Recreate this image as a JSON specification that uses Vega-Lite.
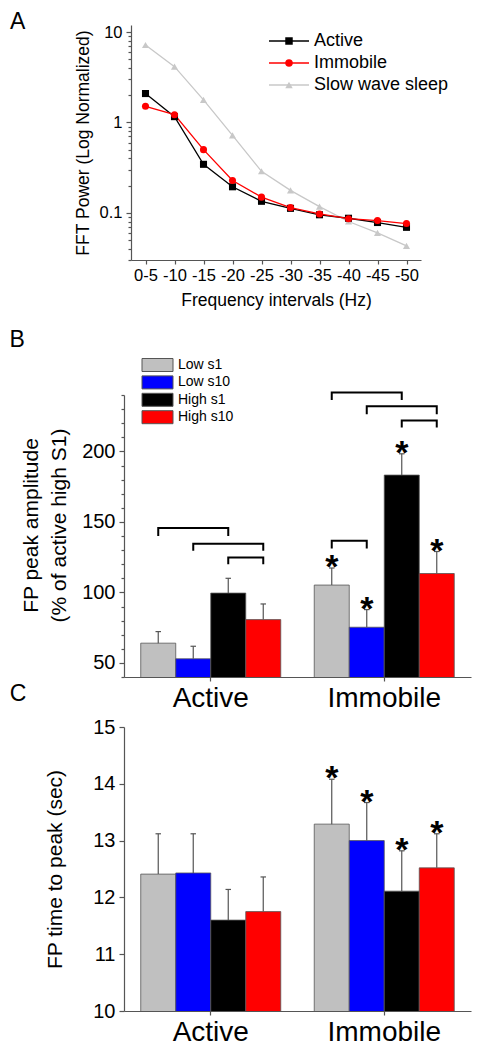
{
  "$schema": "https://vega.github.io/schema/vega-lite/v6.json",
  "padding": {"left": 9, "top": 10, "right": 10, "bottom": 5},
  "config": {
    "font": "Liberation Sans",
    "view": {"stroke": null},
    "axis": {"grid": false, "domainColor": "#555", "tickColor": "#555", "labelColor": "#000", "titleColor": "#000", "titleFontWeight": "normal", "domainWidth": 1.2, "tickWidth": 1.2},
    "title": {"fontWeight": "normal", "anchor": "start", "frame": "group", "color": "#000", "fontSize": 23, "baseline": "alphabetic"},
    "legend": {"labelColor": "#000"}
  },
  "datasets": {
    "fft": [
      {"interval": "0-5", "series": "Slow wave sleep", "power": 7.2},
      {"interval": "-10", "series": "Slow wave sleep", "power": 4.15},
      {"interval": "-15", "series": "Slow wave sleep", "power": 1.78},
      {"interval": "-20", "series": "Slow wave sleep", "power": 0.72},
      {"interval": "-25", "series": "Slow wave sleep", "power": 0.288},
      {"interval": "-30", "series": "Slow wave sleep", "power": 0.177},
      {"interval": "-35", "series": "Slow wave sleep", "power": 0.117},
      {"interval": "-40", "series": "Slow wave sleep", "power": 0.08},
      {"interval": "-45", "series": "Slow wave sleep", "power": 0.06},
      {"interval": "-50", "series": "Slow wave sleep", "power": 0.043},
      {"interval": "0-5", "series": "Active", "power": 2.09},
      {"interval": "-10", "series": "Active", "power": 1.16},
      {"interval": "-15", "series": "Active", "power": 0.344},
      {"interval": "-20", "series": "Active", "power": 0.194},
      {"interval": "-25", "series": "Active", "power": 0.134},
      {"interval": "-30", "series": "Active", "power": 0.112},
      {"interval": "-35", "series": "Active", "power": 0.095},
      {"interval": "-40", "series": "Active", "power": 0.087},
      {"interval": "-45", "series": "Active", "power": 0.078},
      {"interval": "-50", "series": "Active", "power": 0.069},
      {"interval": "0-5", "series": "Immobile", "power": 1.51},
      {"interval": "-10", "series": "Immobile", "power": 1.22},
      {"interval": "-15", "series": "Immobile", "power": 0.5},
      {"interval": "-20", "series": "Immobile", "power": 0.228},
      {"interval": "-25", "series": "Immobile", "power": 0.149},
      {"interval": "-30", "series": "Immobile", "power": 0.114},
      {"interval": "-35", "series": "Immobile", "power": 0.097},
      {"interval": "-40", "series": "Immobile", "power": 0.086},
      {"interval": "-45", "series": "Immobile", "power": 0.082},
      {"interval": "-50", "series": "Immobile", "power": 0.076}
    ],
    "amp": [
      {"state": "Active", "stim": "Low s1", "amp": 64, "upper": 72.2, "sig": false},
      {"state": "Active", "stim": "Low s10", "amp": 52.9, "upper": 61.8, "sig": false},
      {"state": "Active", "stim": "High s1", "amp": 99.5, "upper": 110, "sig": false},
      {"state": "Active", "stim": "High s10", "amp": 80.7, "upper": 91.8, "sig": false},
      {"state": "Immobile", "stim": "Low s1", "amp": 105.2, "upper": 117.3, "sig": true},
      {"state": "Immobile", "stim": "Low s10", "amp": 75.3, "upper": 87.8, "sig": true},
      {"state": "Immobile", "stim": "High s1", "amp": 183.2, "upper": 198.3, "sig": true},
      {"state": "Immobile", "stim": "High s10", "amp": 113.4, "upper": 129, "sig": true}
    ],
    "brk": [
      {"bracket": "a1", "state": "Active", "stim": "Low s1", "level": 140, "seq": 1},
      {"bracket": "a1", "state": "Active", "stim": "Low s1", "level": 145.6, "seq": 2},
      {"bracket": "a1", "state": "Active", "stim": "High s1", "level": 145.6, "seq": 3},
      {"bracket": "a1", "state": "Active", "stim": "High s1", "level": 140, "seq": 4},
      {"bracket": "a2", "state": "Active", "stim": "Low s10", "level": 129.5, "seq": 1},
      {"bracket": "a2", "state": "Active", "stim": "Low s10", "level": 134.5, "seq": 2},
      {"bracket": "a2", "state": "Active", "stim": "High s10", "level": 134.5, "seq": 3},
      {"bracket": "a2", "state": "Active", "stim": "High s10", "level": 129.5, "seq": 4},
      {"bracket": "a3", "state": "Active", "stim": "High s1", "level": 120, "seq": 1},
      {"bracket": "a3", "state": "Active", "stim": "High s1", "level": 124.8, "seq": 2},
      {"bracket": "a3", "state": "Active", "stim": "High s10", "level": 124.8, "seq": 3},
      {"bracket": "a3", "state": "Active", "stim": "High s10", "level": 120, "seq": 4},
      {"bracket": "i1", "state": "Immobile", "stim": "Low s1", "level": 236.4, "seq": 1},
      {"bracket": "i1", "state": "Immobile", "stim": "Low s1", "level": 241.8, "seq": 2},
      {"bracket": "i1", "state": "Immobile", "stim": "High s1", "level": 241.8, "seq": 3},
      {"bracket": "i1", "state": "Immobile", "stim": "High s1", "level": 236.4, "seq": 4},
      {"bracket": "i2", "state": "Immobile", "stim": "Low s10", "level": 226.4, "seq": 1},
      {"bracket": "i2", "state": "Immobile", "stim": "Low s10", "level": 232, "seq": 2},
      {"bracket": "i2", "state": "Immobile", "stim": "High s10", "level": 232, "seq": 3},
      {"bracket": "i2", "state": "Immobile", "stim": "High s10", "level": 226.4, "seq": 4},
      {"bracket": "i3", "state": "Immobile", "stim": "High s1", "level": 217, "seq": 1},
      {"bracket": "i3", "state": "Immobile", "stim": "High s1", "level": 221.9, "seq": 2},
      {"bracket": "i3", "state": "Immobile", "stim": "High s10", "level": 221.9, "seq": 3},
      {"bracket": "i3", "state": "Immobile", "stim": "High s10", "level": 217, "seq": 4},
      {"bracket": "i4", "state": "Immobile", "stim": "Low s1", "level": 131.2, "seq": 1},
      {"bracket": "i4", "state": "Immobile", "stim": "Low s1", "level": 136.6, "seq": 2},
      {"bracket": "i4", "state": "Immobile", "stim": "Low s10", "level": 136.6, "seq": 3},
      {"bracket": "i4", "state": "Immobile", "stim": "Low s10", "level": 131.2, "seq": 4}
    ],
    "ttp": [
      {"state": "Active", "stim": "Low s1", "time": 12.41, "upper": 13.12, "sig": false},
      {"state": "Active", "stim": "Low s10", "time": 12.43, "upper": 13.12, "sig": false},
      {"state": "Active", "stim": "High s1", "time": 11.6, "upper": 12.14, "sig": false},
      {"state": "Active", "stim": "High s10", "time": 11.75, "upper": 12.36, "sig": false},
      {"state": "Immobile", "stim": "Low s1", "time": 13.29, "upper": 14.08, "sig": true},
      {"state": "Immobile", "stim": "Low s10", "time": 13.0, "upper": 13.67, "sig": true},
      {"state": "Immobile", "stim": "High s1", "time": 12.11, "upper": 12.82, "sig": true},
      {"state": "Immobile", "stim": "High s10", "time": 12.52, "upper": 13.12, "sig": true}
    ]
  },
  "bounds": "flush",
  "spacing": 135,
  "resolve": {"legend": {"fill": "independent", "stroke": "independent", "color": "independent", "shape": "independent"}},
  "vconcat": [
    {
      "width": 297,
      "height": 235,
      "title": {"text": "A", "dx": -114, "offset": -9.5},
      "data": {"name": "fft"},
      "layer": [
        {
          "layer": [
            {
              "mark": {"type": "line", "strokeWidth": 1.3},
              "encoding": {
                "x": {"field": "interval", "type": "ordinal", "sort": ["0-5", "-10", "-15", "-20", "-25", "-30", "-35", "-40", "-45", "-50"], "scale": {"type": "point", "range": [7, 297], "padding": 0.5}, "axis": {"title": "Frequency intervals (Hz)", "labelAngle": 0, "labelFontSize": 16.5, "titleFontSize": 17.5, "tickSize": 4, "labelPadding": 3, "titlePadding": 8}},
                "y": {"field": "power", "type": "quantitative", "scale": {"type": "log", "domain": [0.03, 12], "nice": false}, "axis": {"values": [0.1, 1, 10], "format": "~g", "offset": -7, "tickSize": 5, "labelFontSize": 16.5, "labelPadding": 4, "title": "FFT Power (Log Normalized)", "titleFontSize": 17.5, "titlePadding": 7}},
                "stroke": {"field": "series", "type": "nominal", "scale": {"range": ["#000000", "#ff0000", "#c8c8c8"]}, "legend": {"orient": "none", "legendX": 156, "legendY": 7, "title": null, "symbolType": "M-5,0H5", "symbolSize": 64, "symbolStrokeWidth": 1.3, "labelFontSize": 18, "labelOffset": 16, "rowPadding": 4}}
              }
            },
            {
              "mark": {"type": "point", "filled": true, "opacity": 1, "size": 50},
              "encoding": {
                "x": {"field": "interval", "type": "ordinal", "sort": ["0-5", "-10", "-15", "-20", "-25", "-30", "-35", "-40", "-45", "-50"]},
                "y": {"field": "power", "type": "quantitative"},
                "color": {"field": "series", "type": "nominal", "scale": {"domain": ["Active", "Immobile", "Slow wave sleep"], "range": ["#000000", "#ff0000", "#c8c8c8"]}, "legend": {"orient": "none", "legendX": 156, "legendY": 7, "title": null, "symbolSize": 56, "symbolStrokeWidth": 0, "labelFontSize": 18, "labelExpr": "''", "rowPadding": 4}},
                "shape": {"field": "series", "type": "nominal", "scale": {"domain": ["Active", "Immobile", "Slow wave sleep"], "range": ["square", "circle", "triangle-up"]}, "legend": {"orient": "none", "legendX": 156, "legendY": 7, "title": null, "symbolSize": 56, "symbolStrokeWidth": 0, "labelFontSize": 18, "labelExpr": "''", "rowPadding": 4}}
              }
            }
          ]
        },
        {
          "mark": {"type": "tick", "opacity": 0},
          "encoding": {
            "y": {"field": "power", "type": "quantitative", "scale": {"type": "log", "domain": [0.03, 12], "nice": false}, "axis": {"values": [0.03, 0.04, 0.05, 0.06, 0.07, 0.08, 0.09, 0.2, 0.3, 0.4, 0.5, 0.6, 0.7, 0.8, 0.9, 2, 3, 4, 5, 6, 7, 8, 9], "orient": "left", "offset": -7, "tickSize": 3, "labels": false, "domain": false, "title": null}}
          }
        }
      ],
      "resolve": {"scale": {"y": "independent"}, "axis": {"y": "independent"}}
    },
    {
      "bounds": "flush",
      "spacing": 50,
      "resolve": {"legend": {"fill": "independent"}},
      "vconcat": [
        {
          "width": 347,
          "height": 282,
          "title": {"text": "B", "dx": -114.5, "offset": 6},
          "layer": [
            {
              "layer": [
                {
                  "data": {"name": "amp"},
                  "mark": {"type": "bar", "clip": true, "stroke": "#555", "strokeWidth": 0.8},
                  "encoding": {
                    "x": {"field": "state", "type": "nominal", "sort": ["Active", "Immobile"], "scale": {"paddingInner": 0.193, "paddingOuter": 0.0965}, "axis": {"title": null, "labelAngle": 0, "labelFontSize": 28, "tickSize": 4, "labelPadding": 3}},
                    "xOffset": {"field": "stim", "type": "nominal", "sort": ["Low s1", "Low s10", "High s1", "High s10"], "scale": {"paddingInner": 0, "paddingOuter": 0}},
                    "y": {"field": "amp", "type": "quantitative", "scale": {"domain": [40, 240], "zero": false}, "axis": {"values": [50, 100, 150, 200], "tickSize": 5, "labelFontSize": 20, "labelPadding": 4, "title": ["FP peak amplitude", "(% of active high S1)"], "titleFontSize": 21, "titleLineHeight": 28, "titlePadding": 12, "titleY": 130}},
                    "fill": {"field": "stim", "type": "nominal", "scale": {"domain": ["Low s1", "Low s10", "High s1", "High s10"], "range": ["#c0c0c0", "#0000ff", "#000000", "#ff0000"]}, "legend": {"orient": "none", "legendX": 26.5, "legendY": -37, "title": null, "symbolType": "M-3.1,-1.3H3.1V1.3H-3.1Z", "symbolSize": 100, "symbolStrokeColor": "#555", "symbolStrokeWidth": 1, "labelFontSize": 14, "labelOffset": 13.5, "rowPadding": -0.6}}
                  }
                },
                {
                  "data": {"name": "amp"},
                  "mark": {"type": "rule", "color": "#555", "strokeWidth": 1.2},
                  "encoding": {
                    "x": {"field": "state", "type": "nominal", "sort": ["Active", "Immobile"]},
                    "xOffset": {"field": "stim", "type": "nominal", "sort": ["Low s1", "Low s10", "High s1", "High s10"]},
                    "y": {"field": "amp", "type": "quantitative"},
                    "y2": {"field": "upper"}
                  }
                },
                {
                  "data": {"name": "amp"},
                  "mark": {"type": "point", "shape": "stroke", "size": 30, "color": "#555", "strokeWidth": 1.2, "opacity": 1},
                  "encoding": {
                    "x": {"field": "state", "type": "nominal", "sort": ["Active", "Immobile"]},
                    "xOffset": {"field": "stim", "type": "nominal", "sort": ["Low s1", "Low s10", "High s1", "High s10"]},
                    "y": {"field": "upper", "type": "quantitative"}
                  }
                },
                {
                  "data": {"name": "amp"},
                  "transform": [{"filter": "datum.sig"}],
                  "mark": {"type": "text", "text": "*", "fontSize": 34, "fontWeight": "bold", "baseline": "alphabetic", "dy": 10, "color": "#000"},
                  "encoding": {
                    "x": {"field": "state", "type": "nominal", "sort": ["Active", "Immobile"]},
                    "xOffset": {"field": "stim", "type": "nominal", "sort": ["Low s1", "Low s10", "High s1", "High s10"]},
                    "y": {"field": "upper", "type": "quantitative"}
                  }
                },
                {
                  "mark": {"type": "rule", "color": "#c8c8c8", "strokeWidth": 2, "strokeDash": [9, 6]},
                  "encoding": {"y": {"datum": 100}}
                },
                {
                  "data": {"name": "brk"},
                  "mark": {"type": "line", "color": "#000", "strokeWidth": 2},
                  "encoding": {
                    "x": {"field": "state", "type": "nominal", "sort": ["Active", "Immobile"]},
                    "xOffset": {"field": "stim", "type": "nominal", "sort": ["Low s1", "Low s10", "High s1", "High s10"]},
                    "y": {"field": "level", "type": "quantitative"},
                    "detail": {"field": "bracket", "type": "nominal"},
                    "order": {"field": "seq", "type": "quantitative"}
                  }
                }
              ]
            },
            {
              "data": {"name": "amp"},
              "mark": {"type": "tick", "opacity": 0},
              "encoding": {
                "y": {"field": "amp", "type": "quantitative", "scale": {"domain": [40, 240], "zero": false}, "axis": {"values": [40, 60, 70, 80, 90, 110, 120, 130, 140, 160, 170, 180, 190, 210, 220, 230, 240], "orient": "left", "tickSize": 3, "labels": false, "domain": false, "title": null}}
              }
            }
          ],
          "resolve": {"scale": {"y": "independent"}, "axis": {"y": "independent"}}
        },
        {
          "width": 347,
          "height": 284,
          "title": {"text": "C", "dx": -114.3, "offset": 11.5},
          "data": {"name": "ttp"},
          "layer": [
            {
              "mark": {"type": "bar", "clip": true, "stroke": "#555", "strokeWidth": 0.8},
              "encoding": {
                "x": {"field": "state", "type": "nominal", "sort": ["Active", "Immobile"], "scale": {"paddingInner": 0.193, "paddingOuter": 0.0965}, "axis": {"title": null, "labelAngle": 0, "labelFontSize": 28, "tickSize": 4, "labelPadding": 3}},
                "xOffset": {"field": "stim", "type": "nominal", "sort": ["Low s1", "Low s10", "High s1", "High s10"], "scale": {"paddingInner": 0, "paddingOuter": 0}},
                "y": {"field": "time", "type": "quantitative", "scale": {"domain": [10, 15], "zero": false}, "axis": {"values": [10, 11, 12, 13, 14, 15], "format": "d", "tickSize": 5, "labelFontSize": 20, "labelPadding": 4, "title": "FP time to peak (sec)", "titleFontSize": 21, "titlePadding": 27}},
                "fill": {"field": "stim", "type": "nominal", "scale": {"domain": ["Low s1", "Low s10", "High s1", "High s10"], "range": ["#c0c0c0", "#0000ff", "#000000", "#ff0000"]}, "legend": null}
              }
            },
            {
              "mark": {"type": "rule", "color": "#555", "strokeWidth": 1.2},
              "encoding": {
                "x": {"field": "state", "type": "nominal", "sort": ["Active", "Immobile"]},
                "xOffset": {"field": "stim", "type": "nominal", "sort": ["Low s1", "Low s10", "High s1", "High s10"]},
                "y": {"field": "time", "type": "quantitative"},
                "y2": {"field": "upper"}
              }
            },
            {
              "mark": {"type": "point", "shape": "stroke", "size": 30, "color": "#555", "strokeWidth": 1.2, "opacity": 1},
              "encoding": {
                "x": {"field": "state", "type": "nominal", "sort": ["Active", "Immobile"]},
                "xOffset": {"field": "stim", "type": "nominal", "sort": ["Low s1", "Low s10", "High s1", "High s10"]},
                "y": {"field": "upper", "type": "quantitative"}
              }
            },
            {
              "transform": [{"filter": "datum.sig"}],
              "mark": {"type": "text", "text": "*", "fontSize": 34, "fontWeight": "bold", "baseline": "alphabetic", "dy": 10, "color": "#000"},
              "encoding": {
                "x": {"field": "state", "type": "nominal", "sort": ["Active", "Immobile"]},
                "xOffset": {"field": "stim", "type": "nominal", "sort": ["Low s1", "Low s10", "High s1", "High s10"]},
                "y": {"field": "upper", "type": "quantitative"}
              }
            }
          ]
        }
      ]
    }
  ]
}
